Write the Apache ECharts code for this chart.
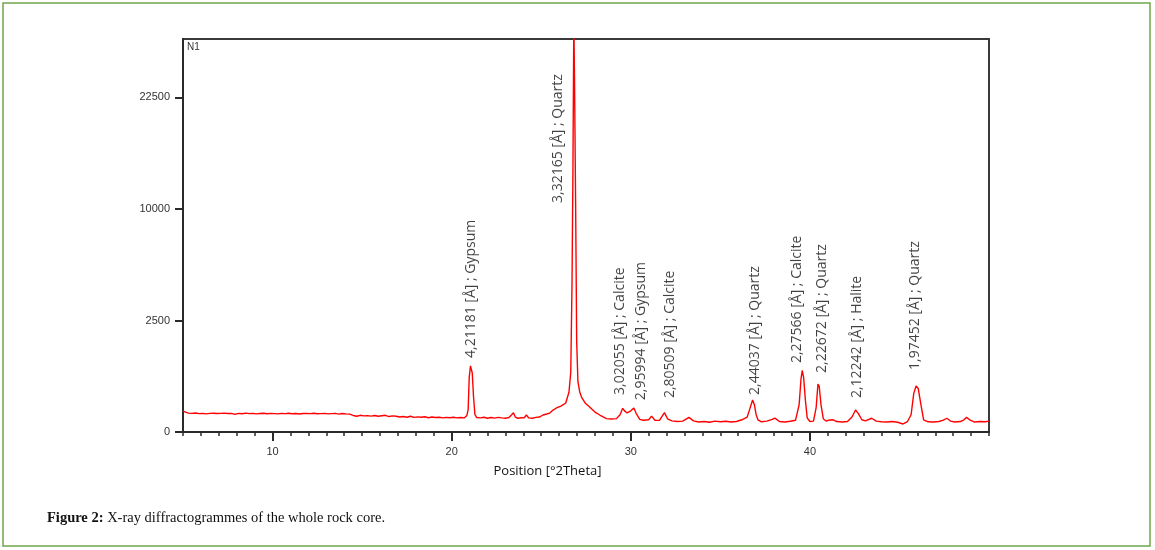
<!DOCTYPE html>
<html>
<head>
<meta charset="utf-8">
<script src="https://cdn.jsdelivr.net/npm/echarts@6/dist/echarts.min.js"></script>
<style>
html,body{margin:0;padding:0;background:#fff;}
#chart{width:1155px;height:550px;}
</style>
</head>
<body>
<div id="chart"></div>
<script>
// ---- data (2θ positions in degrees, intensity in counts) ----
const twoTheta = [
  5.0,5.1,5.3,5.5,5.7,5.9,6.1,6.3,6.5,6.7,6.9,7.1,7.3,7.5,7.7,7.9,8.1,8.3,8.5,8.7,8.9,9.1,9.3,9.5,9.7,9.9,
  10.1,10.3,10.5,10.7,10.9,11.1,11.3,11.5,11.7,11.9,12.1,12.3,12.5,12.7,12.9,13.1,13.3,13.5,13.7,13.9,14.1,14.3,
  14.5,14.7,14.9,15.1,15.3,15.5,15.7,15.9,16.1,16.3,16.5,16.7,16.9,17.1,17.3,17.5,17.7,17.9,18.1,18.3,18.5,18.7,
  18.9,19.1,19.3,19.5,19.7,19.9,20.1,20.3,20.5,20.7,20.85,20.92,20.98,21.05,21.1,21.15,21.22,21.3,21.4,21.6,21.8,
  22.0,22.2,22.4,22.6,22.8,23.0,23.2,23.35,23.45,23.55,23.7,23.9,24.05,24.17,24.3,24.5,24.7,24.9,25.1,25.3,25.48,
  25.66,25.85,26.1,26.37,26.55,26.65,26.72,26.77,26.82,26.86,26.92,26.98,27.05,27.15,27.25,27.45,27.7,28.0,28.27,
  28.64,28.9,29.2,29.4,29.55,29.65,29.8,30.0,30.17,30.3,30.5,30.7,31.0,31.16,31.35,31.6,31.88,32.05,32.3,32.6,
  32.9,33.25,33.5,33.8,34.1,34.4,34.7,35.0,35.3,35.6,35.9,36.2,36.5,36.65,36.8,36.9,37.0,37.1,37.3,37.6,37.9,
  38.05,38.3,38.6,38.9,39.2,39.4,39.5,39.57,39.65,39.75,39.85,40.0,40.2,40.35,40.45,40.52,40.62,40.75,40.9,41.1,
  41.3,41.5,41.8,42.1,42.35,42.55,42.7,42.9,43.1,43.45,43.7,44.0,44.3,44.6,44.9,45.2,45.45,45.65,45.8,45.93,
  46.05,46.2,46.35,46.6,46.9,47.2,47.45,47.65,47.85,48.1,48.4,48.6,48.75,48.95,49.2,49.5,49.8,50.0
];
const counts = [
  88,84,72,70,73,68,70,66,70,71,69,70,72,69,70,62,70,67,72,68,70,66,69,71,67,70,
  68,66,70,68,71,67,69,65,69,70,68,71,67,68,70,66,68,70,64,69,66,64,
  55,50,56,52,54,51,55,50,53,56,48,52,50,45,48,44,50,43,46,44,47,41,
  45,42,44,40,43,41,44,40,42,40,55,100,600,880,860,700,250,60,42,40,44,
  38,42,39,43,40,38,42,60,75,45,38,41,40,58,40,38,43,45,58,65,72,
  97,116,135,169,322,724,4524,13593,34000,24633,10638,1629,503,322,246,170,126,80,58,
  36,34,36,60,113,90,73,90,116,70,32,28,30,51,28,27,75,35,25,22,
  24,43,25,20,22,19,24,21,23,20,22,30,45,110,206,150,60,30,21,24,32,
  39,22,20,23,28,150,550,761,600,200,40,22,24,120,463,420,150,35,24,29,
  30,22,20,22,45,97,70,30,25,38,24,21,20,22,19,13,22,60,300,425,
  380,150,30,21,20,22,28,38,24,20,22,30,43,28,20,22,21,24
];
// peak annotations
const peakLabels = [
  '4,21181 [Å] ; Gypsum','3,32165 [Å] ; Quartz','3,02055 [Å] ; Calcite','2,95994 [Å] ; Gypsum',
  '2,80509 [Å] ; Calcite','2,44037 [Å] ; Quartz','2,27566 [Å] ; Calcite','2,22672 [Å] ; Quartz',
  '2,12242 [Å] ; Halite','1,97452 [Å] ; Quartz'
];
const labelTheta  = [21.10, 25.94, 29.39, 30.59, 32.18, 36.93, 39.26, 40.65, 42.61, 45.87];
const labelCounts = [1102, 10547, 276, 204, 231, 276, 955, 702, 231, 773];
// axis ticks
const xTickLabels = [10, 20, 30, 40];
const yTickLabels = [0, 2500, 10000, 22500];
const xMin = 5, xMax = 50, yMaxCounts = 31050;

const chart = echarts.init(document.getElementById('chart'));
const lineData = twoTheta.map((t, i) => [t, Math.sqrt(counts[i])]);
const labelData = labelTheta.map((t, i) => [t, Math.sqrt(labelCounts[i])]);

const option = {
  animation: false,
  backgroundColor: '#fff',
  grid: {
    left: 183, top: 39, width: 806, height: 393,
    show: true, borderColor: '#3a3a3a', borderWidth: 2, backgroundColor: 'transparent'
  },
  xAxis: [
    {
      type: 'value', min: xMin, max: xMax, position: 'bottom',
      axisLine: { show: true, onZero: false, lineStyle: { color: '#2a2a2a', width: 2 } },
      axisTick: { show: true, length: 9, customValues: xTickLabels, lineStyle: { color: '#2a2a2a', width: 2 } },
      axisLabel: { show: true, customValues: xTickLabels, margin: 14, color: '#333',
        fontFamily: 'Liberation Sans, Arial, sans-serif', fontSize: 11 },
      splitLine: { show: false }
    },
    {
      type: 'value', min: xMin, max: xMax, interval: 1, position: 'bottom',
      axisLine: { show: false },
      axisTick: { show: true, length: 4, lineStyle: { color: '#2a2a2a', width: 1.5 } },
      axisLabel: { show: false },
      splitLine: { show: false }
    }
  ],
  yAxis: {
    type: 'value', min: 0, max: Math.sqrt(yMaxCounts),
    axisLine: { show: true, onZero: false, lineStyle: { color: '#2a2a2a', width: 2 } },
    axisTick: { show: true, length: 8, customValues: yTickLabels.map(Math.sqrt), lineStyle: { color: '#2a2a2a', width: 2 } },
    axisLabel: { show: true, customValues: yTickLabels.map(Math.sqrt), margin: 13, color: '#333',
      fontFamily: 'Liberation Sans, Arial, sans-serif', fontSize: 11,
      formatter: v => String(Math.round(v * v)) },
    splitLine: { show: false }
  },
  series: [
    {
      type: 'line', data: lineData, showSymbol: false, symbol: 'none', clip: true,
      lineStyle: { color: '#ff0000', width: 1.4 }, z: 3
    },
    {
      type: 'scatter', data: labelData, symbolSize: 0, z: 4, silent: true,
      label: {
        show: true, position: [0, 0], rotate: 90, align: 'left', verticalAlign: 'middle',
        formatter: p => peakLabels[p.dataIndex],
        color: '#111', fontFamily: 'Open Sans, sans-serif', fontSize: 14
      }
    }
  ],
  graphic: [
    { type: 'rect', shape: { x: 3, y: 3, width: 1147, height: 543 },
      style: { fill: 'none', stroke: '#6fa64c', lineWidth: 1.5 }, silent: true },
    { type: 'text', x: 187, y: 47, style: { text: 'N1', fill: '#333', font: '10px Liberation Sans, Arial, sans-serif',
      textVerticalAlign: 'middle' } },
    { type: 'text', x: 547.5, y: 471, style: { text: 'Position [°2Theta]', fill: '#111',
      font: '13px Open Sans, sans-serif', textAlign: 'center', textVerticalAlign: 'middle' } },
    { type: 'text', x: 47, y: 518, style: {
      text: '{b|Figure 2:} X-ray diffractogrammes of the whole rock core.',
      fill: '#111', font: '14.5px Liberation Serif, serif', textVerticalAlign: 'middle',
      rich: { b: { fontWeight: 'bold', fontFamily: 'Liberation Serif, serif', fontSize: 14.5, fill: '#111' } } } }
  ]
};
chart.setOption(option);
</script>
</body>
</html>
